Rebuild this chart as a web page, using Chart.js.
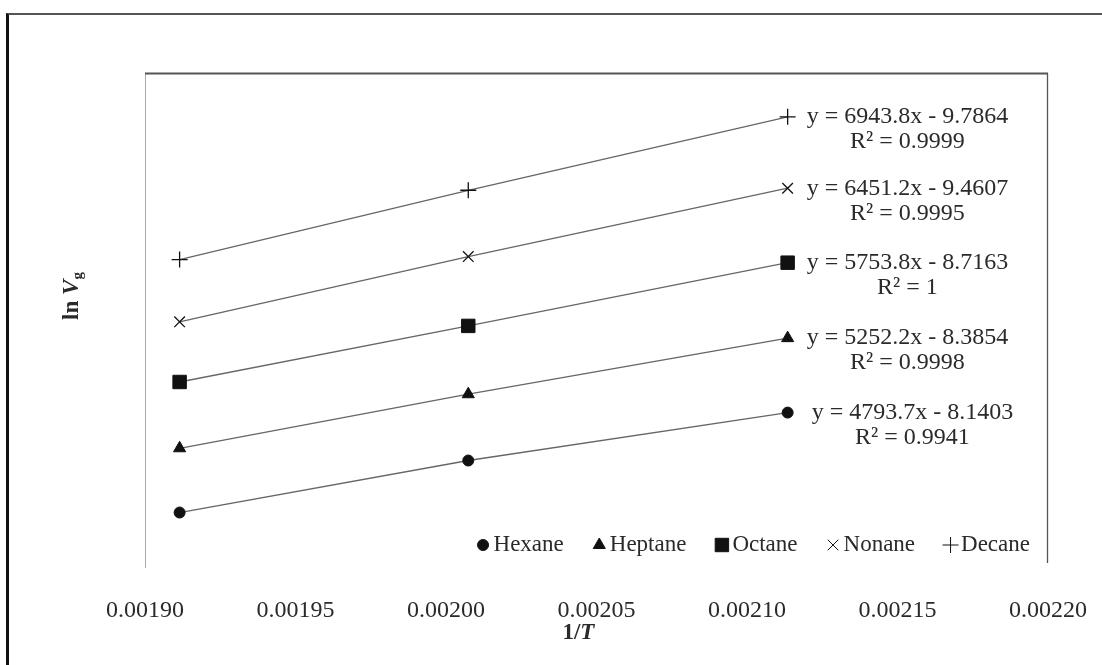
<!DOCTYPE html>
<html>
<head>
<meta charset="utf-8">
<script src="https://cdn.jsdelivr.net/npm/chart.js@4.4.0/dist/chart.umd.min.js"></script>
<style>
  html, body { margin: 0; padding: 0; background: #fff; }
  #wrap { position: relative; width: 1102px; height: 665px; overflow: hidden; }
  #frame { position: absolute; left: 6px; top: 13px; right: 0; bottom: 0;
           border-left: 3px solid #111; border-top: 2px solid #555; }
  canvas { position: absolute; left: 0; top: 0; }
</style>
</head>
<body>
<div id="wrap">
  <div id="frame"></div>
  <canvas id="myChart" width="1102" height="665"></canvas>
</div>
<script>
// 1/T (K^-1) of the three column temperatures
var invT = [0.0019115, 0.0020074, 0.0021135];

// ln Vg
var hexane  = [1.01, 1.52, 1.99];
var heptane = [1.64, 2.17, 2.72];
var octane  = [2.29, 2.84, 3.46];
var nonane  = [2.88, 3.52, 4.19];
var decane  = [3.49, 4.17, 4.89];

var names = ["Hexane", "Heptane", "Octane", "Nonane", "Decane"];
var series = [hexane, heptane, octane, nonane, decane];
var markers = ["circle", "triangle", "rect", "crossRot", "cross"];
var markerSizes = [5.5, 7, 9.5, 7.5, 8];

// trendline labels
var equations = ["y = 4793.7x - 8.1403", "y = 5252.2x - 8.3854", "y = 5753.8x - 8.7163",
                 "y = 6451.2x - 9.4607", "y = 6943.8x - 9.7864"];
var rSquared = ["R² = 0.9941", "R² = 0.9998", "R² = 1", "R² = 0.9995", "R² = 0.9999"];

var xTicks = [0.00190, 0.00195, 0.00200, 0.00205, 0.00210, 0.00215, 0.00220];

var serif = "'Liberation Serif', 'Times New Roman', serif";
var textColor = "#2a2a2a";

var datasets = series.map(function (vals, i) {
  return {
    label: names[i],
    data: invT.map(function (x, j) { return { x: x, y: vals[j] }; }),
    showLine: true,
    borderColor: "#666",
    borderWidth: 1.3,
    pointStyle: markers[i],
    pointRadius: markerSizes[i],
    pointBackgroundColor: "#111",
    pointBorderColor: "#111",
    pointBorderWidth: (markers[i] == "cross" || markers[i] == "crossRot") ? 1.3 : 1
  };
});

// plot box, equations, legend and axis titles
var extras = {
  id: "extras",
  beforeDatasetsDraw: function (chart) {
    var a = chart.chartArea, c = chart.ctx;
    c.save();
    c.lineWidth = 1;
    c.strokeStyle = "#aaa";
    c.beginPath();
    c.moveTo(a.left + 0.5, a.bottom);
    c.lineTo(a.left + 0.5, a.top);
    c.stroke();
    c.strokeStyle = "#555";
    c.lineWidth = 2;
    c.beginPath();
    c.moveTo(a.left, a.top + 0.5);
    c.lineTo(a.right, a.top + 0.5);
    c.stroke();
    c.lineWidth = 1.3;
    c.beginPath();
    c.moveTo(a.right - 0.5, a.top);
    c.lineTo(a.right - 0.5, a.bottom - 5);
    c.stroke();
    c.restore();
  },
  afterDraw: function (chart) {
    var c = chart.ctx, a = chart.chartArea;
    c.save();
    c.fillStyle = textColor;
    c.font = "24px " + serif;

    // trendline equations next to the last point
    chart.data.datasets.forEach(function (ds, i) {
      var pts = chart.getDatasetMeta(i).data;
      var p = pts[pts.length - 1];
      var left = p.x + (i == 0 ? 24 : 19);
      var w = c.measureText(equations[i]).width;
      c.textBaseline = "middle";
      c.textAlign = "left";
      c.fillText(equations[i], left, p.y);
      c.textAlign = "center";
      c.fillText(rSquared[i], left + w / 2, p.y + 25);
    });

    // legend inside the plot area, bottom right
    c.font = "23px " + serif;
    var legendY = a.bottom - 23;
    var gap = 28, mark = 15;
    var widths = names.map(function (n) { return mark + 3 + c.measureText(n).width; });
    var total = widths.reduce(function (s, w) { return s + w; }, 0) + gap * (names.length - 1);
    var x = a.right - 18 - total;
    c.textAlign = "left";
    names.forEach(function (n, i) {
      c.fillStyle = "#111";
      c.strokeStyle = "#111";
      Chart.helpers.drawPoint(c, {
        pointStyle: markers[i],
        radius: [5.5, 7, 9.5, 7.5, 8][i],
        rotation: 0,
        borderWidth: 1.2
      }, x + mark / 2, legendY);
      c.fillStyle = textColor;
      c.fillText(n, x + mark + 3, legendY);
      x += widths[i] + gap;
    });

    // x axis title: 1/T
    c.textBaseline = "middle";
    c.textAlign = "left";
    var b1 = "bold 23px " + serif, bi = "italic bold 23px " + serif;
    c.font = b1;
    var w1 = c.measureText("1/").width;
    c.font = bi;
    var w2 = c.measureText("T").width;
    var cx = a.left + (a.right - a.left) * 0.48;
    c.font = b1;
    c.fillText("1/", cx - (w1 + w2) / 2, 633);
    c.font = bi;
    c.fillText("T", cx - (w1 + w2) / 2 + w1, 633);

    // y axis title: ln Vg
    c.translate(72, 296);
    c.rotate(-Math.PI / 2);
    c.font = b1;
    var t1 = c.measureText("ln ").width;
    c.font = bi;
    var t2 = c.measureText("V").width;
    c.font = "bold 15px " + serif;
    var t3 = c.measureText("g").width;
    var sx = -(t1 + t2 + t3) / 2;
    c.font = b1;
    c.fillText("ln ", sx, 0);
    c.font = bi;
    c.fillText("V", sx + t1, 0);
    c.font = "bold 15px " + serif;
    c.fillText("g", sx + t1 + t2, 6);
    c.restore();
  }
};

var ctx = document.getElementById("myChart").getContext("2d");

var myChart = new Chart(ctx, {
  type: "scatter",
  data: { datasets: datasets },
  plugins: [extras],
  options: {
    responsive: false,
    animation: false,
    devicePixelRatio: 1,
    layout: { padding: { left: 145, right: 54, top: 73, bottom: 0 } },
    plugins: {
      legend: { display: false },
      tooltip: { enabled: false }
    },
    scales: {
      x: {
        type: "linear",
        min: 0.0019,
        max: 0.0022,
        grid: { display: false, drawTicks: false },
        border: { display: false },
        afterBuildTicks: function (scale) {
          scale.ticks = xTicks.map(function (v) { return { value: v }; });
        },
        afterFit: function (scale) {
          scale.height = 97;
          scale.paddingLeft = 0;
          scale.paddingRight = 0;
        },
        ticks: {
          padding: 28,
          maxRotation: 0,
          autoSkip: false,
          color: textColor,
          font: { family: serif, size: 24 },
          callback: function (v) { return v.toFixed(5); }
        }
      },
      y: {
        display: false,
        min: 0.466,
        max: 5.32
      }
    }
  }
});
</script>
</body>
</html>
